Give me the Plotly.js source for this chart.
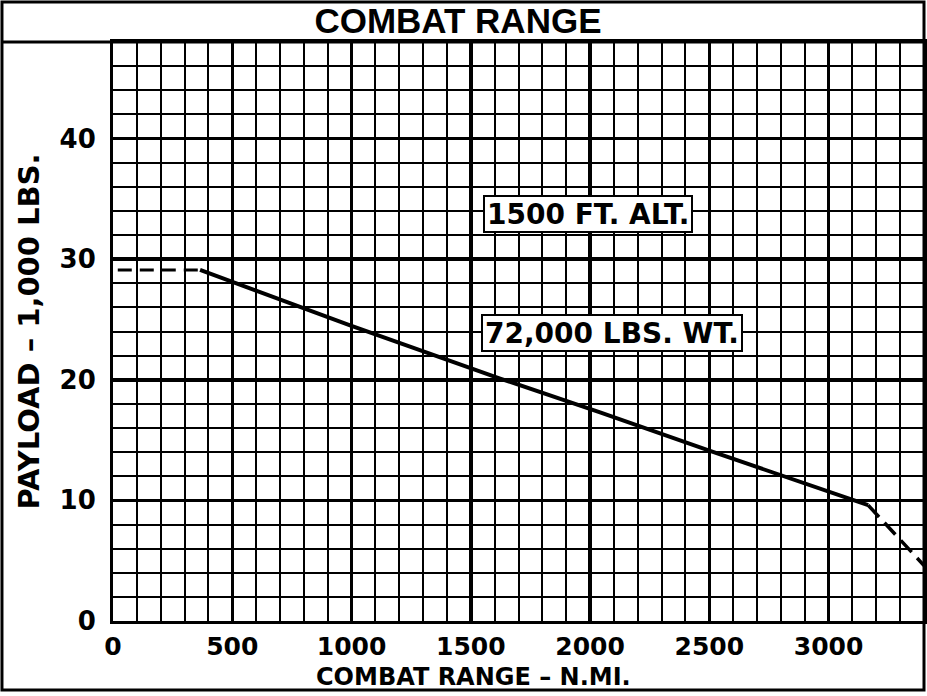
<!DOCTYPE html>
<html>
<head>
<meta charset="utf-8">
<script src="https://cdn.plot.ly/plotly-3.0.1.min.js"></script>
<style>html,body{margin:0;padding:0;background:#fff;}#chart{width:927px;height:696px;}</style>
</head>
<body>
<div id="chart"></div>
<script>
// Combat range (n.mi.) vs payload (1,000 lbs.)
const solidRange   = [365, 994, 1623, 2042, 2503, 3090, 3166];
const solidPayload = [29.1, 24.5, 20.1, 17.3, 14.1, 10.1, 9.6];
const leftDashRange   = [20, 365];
const leftDashPayload = [29.1, 29.1];
const rightDashRange   = [3166, 3400];
const rightDashPayload = [9.6, 4.6];

const xTicks = [0, 500, 1000, 1500, 2000, 2500, 3000];
const yTicks = [0, 10, 20, 30, 40];

const chartTitle = 'COMBAT RANGE';
const xTitle = 'COMBAT RANGE – N.MI.';
const yTitle = 'PAYLOAD – 1,000 LBS.';
const noteAlt = '1500 FT. ALT.';
const noteWt = '72,000 LBS. WT.';

const ink = '#000';
const xLblFont = {family: 'DejaVu Sans', size: 25, color: ink, weight: 'bold'};
const yLblFont = {family: 'DejaVu Sans', size: 26, color: ink, weight: 'bold'};
const noteFont = {family: 'DejaVu Sans', size: 28, color: ink, weight: 'bold'};

const traces = [
  {x: leftDashRange, y: leftDashPayload, mode: 'lines', line: {color: ink, width: 3, dash: '14px,8px'}, hoverinfo: 'skip'},
  {x: solidRange, y: solidPayload, mode: 'lines', line: {color: ink, width: 4}, hoverinfo: 'skip'},
  {x: rightDashRange, y: rightDashPayload, mode: 'lines', line: {color: ink, width: 3.5, dash: '16px,8px'}, hoverinfo: 'skip'}
];

const layout = {
  width: 927, height: 696,
  margin: {l: 113, r: 3, t: 42, b: 75},
  paper_bgcolor: '#fff', plot_bgcolor: '#fff',
  showlegend: false,
  title: {text: chartTitle, x: 0.494, xref: 'container', y: 0.970, yref: 'container', yanchor: 'middle', xanchor: 'center',
          font: {family: 'Liberation Sans', size: 35, color: ink, weight: 'bold'}},
  xaxis: {
    range: [0, 3400], tickvals: xTicks, ticktext: xTicks.map(String),
    showgrid: true, gridcolor: ink, gridwidth: 3.5,
    minor: {dtick: 100, tick0: 0, showgrid: true, gridcolor: ink, gridwidth: 2},
    showline: true, linecolor: ink, linewidth: 3, mirror: true,
    zeroline: false, ticks: '', ticklabelstandoff: 1,
    tickfont: xLblFont
  },
  yaxis: {
    range: [0, 48], tickvals: yTicks, ticktext: yTicks.map(String),
    showgrid: true, gridcolor: ink, gridwidth: 3.5,
    minor: {dtick: 2, tick0: 0, showgrid: true, gridcolor: ink, gridwidth: 2},
    showline: true, linecolor: ink, linewidth: 3, mirror: true,
    zeroline: false, ticks: '', ticklabelstandoff: 9,
    tickfont: yLblFont,
    title: {text: yTitle, standoff: 12, font: {family: 'DejaVu Sans', size: 29, color: ink, weight: 'bold'}}
  },
  annotations: [
    {x: 1990, y: 33.7, xref: 'x', yref: 'y', text: noteAlt, showarrow: false,
     font: noteFont, height: 30,
     bgcolor: '#fff', bordercolor: ink, borderwidth: 2, borderpad: 2},
    {x: 2094, y: 23.9, xref: 'x', yref: 'y', text: noteWt, showarrow: false,
     font: noteFont, height: 30,
     bgcolor: '#fff', bordercolor: ink, borderwidth: 2, borderpad: 2},
    {x: 0.444, y: -0.0967, xref: 'paper', yref: 'paper', text: xTitle, showarrow: false,
     xanchor: 'center', yanchor: 'middle',
     font: {family: 'DejaVu Sans', size: 24, color: ink, weight: 'bold'}}
  ],
  shapes: [
    {type: 'rect', xref: 'paper', yref: 'paper', x0: -0.1369, x1: 1.0, y0: -0.1192, y1: 1.0691,
     line: {color: ink, width: 3}, fillcolor: 'rgba(0,0,0,0)', layer: 'above'},
    {type: 'line', xref: 'paper', yref: 'paper', x0: -0.1369, x1: 1.0, y0: 1.0, y1: 1.0,
     line: {color: ink, width: 3}, layer: 'above'}
  ]
};

Plotly.newPlot('chart', traces, layout, {staticPlot: true, displayModeBar: false});
</script>
</body>
</html>
